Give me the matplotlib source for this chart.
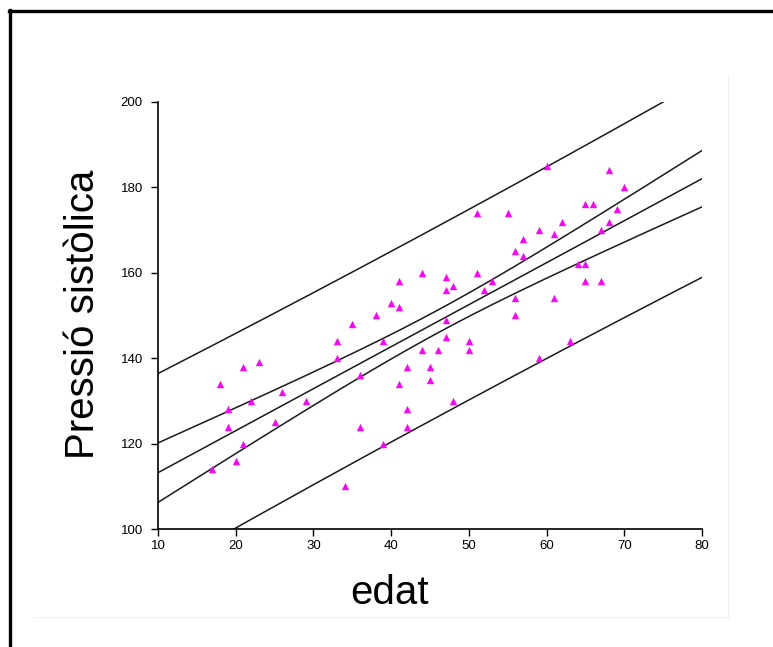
import numpy as np
import matplotlib.pyplot as plt
from matplotlib.lines import Line2D

# edat (anys) i pressió sistòlica (mmHg)
edat = [41, 40, 41, 38, 35, 33, 39, 33, 21, 23, 18, 26, 22, 29, 36, 42, 41,
        19, 19, 25, 21, 20, 17, 42, 42, 36, 39, 34,
        60, 68, 70, 65, 66, 69, 51, 55, 62, 68, 59, 61, 67, 57, 56, 57, 64,
        65, 44, 51, 47, 48, 47, 52, 53, 65, 67, 56, 61, 56, 47, 47, 50, 63,
        44, 46, 50, 45, 45, 48, 59]
pressio = [158, 153, 152, 150, 148, 144, 144, 140, 138, 139, 134, 132, 130,
           130, 136, 138, 134, 128, 124, 125, 120, 116, 114, 128, 124, 124,
           120, 110,
           185, 184, 180, 176, 176, 175, 174, 174, 172, 172, 170, 169, 170,
           168, 165, 164, 162, 162, 160, 160, 159, 157, 156, 156, 158, 158,
           158, 154, 154, 150, 149, 145, 144, 144, 142, 142, 142, 138, 135,
           130, 140]

x_ticks = [10, 20, 30, 40, 50, 60, 70, 80]
y_ticks = [100, 120, 140, 160, 180, 200]
t_crit = 1.996  # t(0.975, n-2)

x = np.array(edat, dtype=float)
y = np.array(pressio, dtype=float)
n = len(x)
b1, b0 = np.polyfit(x, y, 1)
resid = y - (b0 + b1 * x)
s = np.sqrt(np.sum(resid ** 2) / (n - 2))
sxx = np.sum((x - x.mean()) ** 2)

xs = np.linspace(10, 80, 200)
fit = b0 + b1 * xs
lev = 1.0 / n + (xs - x.mean()) ** 2 / sxx
ci = t_crit * s * np.sqrt(lev)
pi = t_crit * s * np.sqrt(1 + lev)

W, H = 773, 647
fig = plt.figure(figsize=(W / 100, H / 100), dpi=100)
ax = fig.add_axes([158 / W, 1 - 529 / H, 544 / W, 427 / H])

ax.scatter(x, y, marker='^', s=28, color='#ff00ff', linewidths=0, zorder=3)
for curve in [fit, fit - ci, fit + ci, fit - pi, fit + pi]:
    ax.plot(xs, curve, color='#1a1a1a', lw=1.1, zorder=2)

ax.set_xlim(10, 80)
ax.set_ylim(100, 200)
ax.set_xticks(x_ticks)
ax.set_yticks(y_ticks)
for side in ['top', 'right']:
    ax.spines[side].set_visible(False)
for side in ['left', 'bottom']:
    ax.spines[side].set_linewidth(1.2)

tick_font = ['Liberation Sans Narrow', 'Liberation Sans', 'DejaVu Sans']
ax.tick_params(axis='both', direction='out', length=5, width=1.0,
               labelsize=9.5, colors='black')
ax.tick_params(axis='y', pad=6)
ax.tick_params(axis='x', pad=3)
for lab in ax.get_xticklabels() + ax.get_yticklabels():
    lab.set_family(tick_font)

fig.text(83 / W, 1 - 314 / H, 'Pressió sistòlica', rotation=90,
         ha='center', va='center', fontsize=29, family='Liberation Sans')
fig.text(390 / W, 1 - 593 / H, 'edat', ha='center', va='center',
         fontsize=29, family='Liberation Sans')

# marc del document i vora tènue de la imatge enganxada
fig.add_artist(Line2D([9.5 / W, 9.5 / W], [0, 1 - 9.5 / H], color='black',
                      lw=2.4, transform=fig.transFigure))
fig.add_artist(Line2D([8.5 / W, 1], [1 - 11 / H, 1 - 11 / H], color='black',
                      lw=2.4, transform=fig.transFigure))
fig.add_artist(Line2D([728 / W, 728 / W], [1 - 617 / H, 1 - 75 / H],
                      color='#f0f0f0', lw=0.8, transform=fig.transFigure))
fig.add_artist(Line2D([33 / W, 728 / W], [1 - 617 / H, 1 - 617 / H],
                      color='#f0f0f0', lw=0.8, transform=fig.transFigure))

fig.savefig('out.png', dpi=100)
